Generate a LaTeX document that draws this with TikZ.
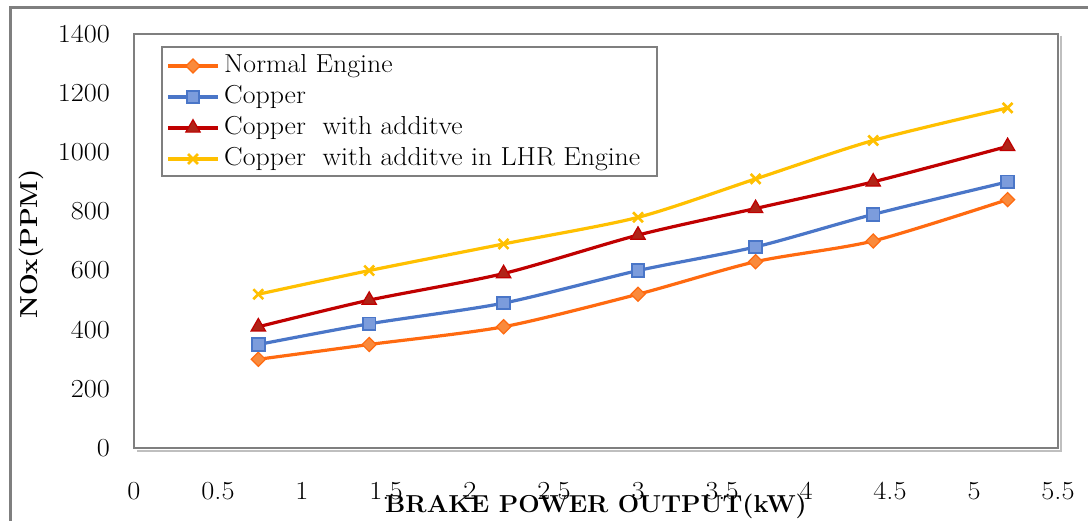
\documentclass[tikz,border=0pt]{standalone}
\usetikzlibrary{plotmarks}
\definecolor{cOr}{HTML}{FF6A10}
\definecolor{cOrF}{HTML}{F98A3C}
\definecolor{cBl}{HTML}{4A76C8}
\definecolor{cBlF}{HTML}{7C9CDC}
\definecolor{cRd}{HTML}{C00000}
\definecolor{cRdF}{HTML}{B02418}
\definecolor{cYl}{HTML}{FFC000}
\definecolor{frameg}{HTML}{7F7F7F}
\newcommand\wid[2][1.09]{\scalebox{#1}[1]{#2}}
\tikzset{
  txt/.style={font=\fontsize{26}{30}\selectfont, inner sep=0pt},
  ttl/.style={font=\fontsize{24.5}{28}\selectfont\bfseries, inner sep=0pt},
  sOr/.style={cOr, line width=3.2pt, mark=square*, mark size=5pt, mark options={rotate=45, fill=cOrF, draw=cOr, line width=1.2pt}},
  sBl/.style={cBl, line width=3.2pt, mark=square*, mark size=6.3pt, mark options={fill=cBlF, draw=cBl, line width=1.8pt, rounded corners=1pt}},
  sRd/.style={cRd, line width=3.2pt, mark=triangle*, mark size=8.3pt, mark options={fill=cRdF, draw=cRd, line width=1.2pt}},
  sYl/.style={cYl, line width=3.2pt, mark=x, mark size=7pt, mark options={draw=cYl, line width=2.6pt}},
}
\begin{document}
\begin{tikzpicture}[x=1pt,y=-1pt]
\useasboundingbox (0,0) rectangle (1088,521);
\fill[white] (0,0) rectangle (1088,521);
% outer chart border
\draw[frameg, line width=3pt] (10,530) -- (10,8) -- (1100,8);
% plot area
\draw[black!25, line width=2pt] (1061,36) -- (1061,451) -- (137,451);
\draw[frameg, line width=2pt] (134,34) rectangle (1058,448);
% tick labels
\foreach \v/\yy in {0/448,200/388.9,400/329.7,600/270.6,800/211.4,1000/152.3,1200/93.1,1400/34}{
  \node[txt, anchor=east] (yl\v) at (110,\yy) {\wid{\v}};
}
\foreach \v [count=\i] in {0,0.5,1,1.5,2,2.5,3,3.5,4,4.5,5,5.5}{
  \node[txt] (xl\i) at ({134+168*\v},491) {\wid{\v}};
}
% axis titles
\node[ttl] (xt) at (596,506) {\wid[1.035]{BRAKE POWER OUTPUT(kW)}};
\node[ttl, rotate=90] (yt) at (31,244) {\wid[1.05]{NOx(PPM)}};
% data
\begin{scope}[shift={(134,448)}, x=168pt, y=0.295714pt]
\draw[sOr] plot[smooth, tension=0.45] coordinates {(0.74,300) (1.4,350) (2.2,410) (3.0,520) (3.7,630) (4.4,700) (5.2,840)};
\draw[sBl] plot[smooth, tension=0.45] coordinates {(0.74,350) (1.4,420) (2.2,490) (3.0,600) (3.7,680) (4.4,790) (5.2,900)};
\draw[sRd] plot[smooth, tension=0.45] coordinates {(0.74,410) (1.4,500) (2.2,590) (3.0,720) (3.7,810) (4.4,900) (5.2,1020)};
\draw[sYl] plot[smooth, tension=0.45] coordinates {(0.74,520) (1.4,600) (2.2,690) (3.0,780) (3.7,910) (4.4,1040) (5.2,1150)};
\end{scope}
% legend
\draw[frameg, line width=1.5pt, fill=white] (162,47) rectangle (657,176);
\draw[sOr] (168,66) -- (218,66);
\draw[sOr] plot[only marks] coordinates {(193,66)};
\draw[sBl] (168,97) -- (218,97);
\draw[sBl] plot[only marks] coordinates {(193,97)};
\draw[sRd] (168,128) -- (218,128);
\draw[sRd] plot[only marks] coordinates {(193,128)};
\draw[sYl] (168,159) -- (218,159);
\draw[sYl] plot[only marks] coordinates {(193,159)};
\node[txt, anchor=west] (l1) at (224,66) {\wid[1.07]{Normal Engine}};
\node[txt, anchor=west] (l2) at (224,97) {\wid[1.07]{Copper}};
\node[txt, anchor=west] (l3) at (224,128) {\wid[1.07]{Copper\ \ with additve}};
\node[txt, anchor=west] (l4) at (224,159) {\wid[1.07]{Copper\ \ with additve in LHR Engine}};
\end{tikzpicture}
\end{document}
